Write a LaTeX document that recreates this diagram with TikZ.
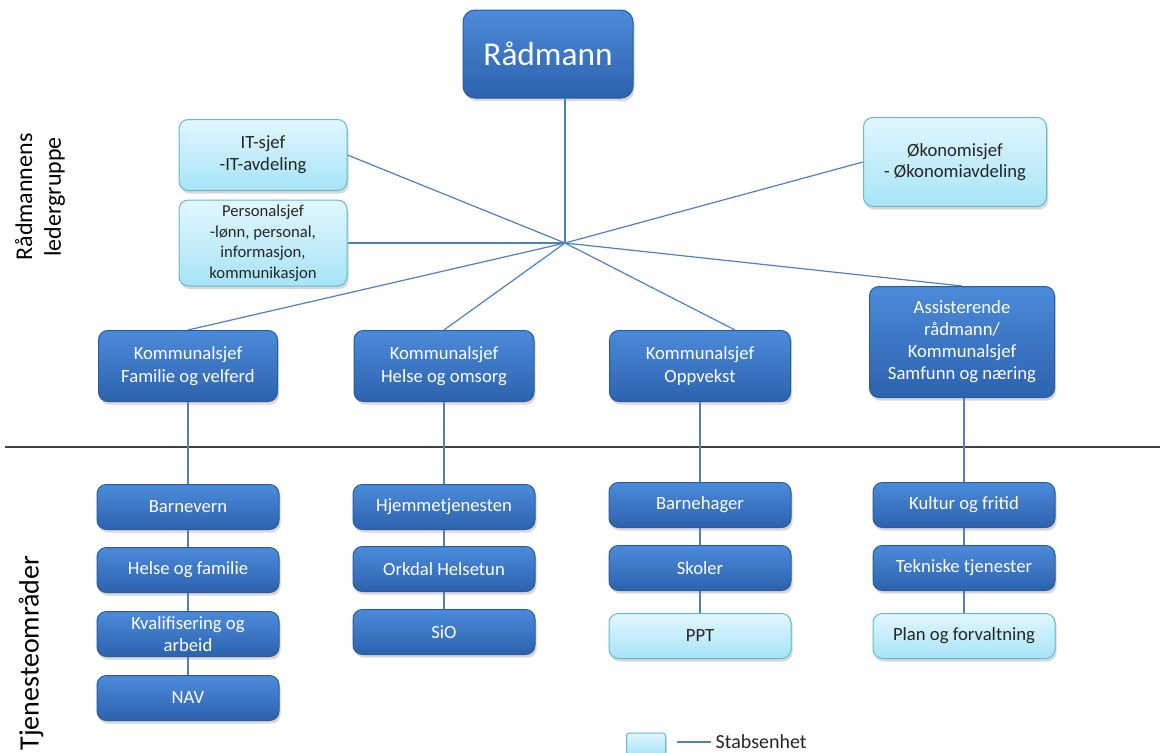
\documentclass[tikz,border=0pt]{standalone}
\usepackage{fontspec}
\setmainfont{Carlito}
\usetikzlibrary{shadows,backgrounds,calc}
\definecolor{dkA}{HTML}{4C8BDA}
\definecolor{dkB}{HTML}{2C62AE}
\definecolor{dkE}{HTML}{285C9C}
\definecolor{ltA}{HTML}{E2F7FD}
\definecolor{ltB}{HTML}{A6E4F7}
\definecolor{ltE}{HTML}{62B9D3}
\definecolor{connc}{HTML}{4F7FC4}
\definecolor{sepc}{HTML}{404040}
\begin{document}
\begin{tikzpicture}[x=0.75pt,y=-0.75pt,
  box/.style={rectangle, rounded corners=7pt, draw, line width=0.75pt,
    drop shadow={shadow xshift=1.2pt, shadow yshift=-2.4pt, opacity=0.3},
    align=center, inner sep=0pt},
  dark/.style={box, top color=dkA, bottom color=dkB, draw=dkE, text=white},
  light/.style={box, top color=ltA, bottom color=ltB, draw=ltE, text=black!85},
  sz/.style 2 args={minimum width={#1*0.75pt}, minimum height={#2*0.75pt}},
  upper/.style={font=\fontsize{14}{17.5}\selectfont},
  lower/.style={dark, sz={182}{45}, font=\fontsize{14}{16.5}\selectfont},
  lowerl/.style={light, sz={182}{45}, font=\fontsize{14}{16.5}\selectfont},
  conn/.style={draw=connc, line width=0.9pt}]
\useasboundingbox (0,0) rectangle (1165,753);

% top
\node[dark, sz={170}{88}, rounded corners=9pt, font=\fontsize{25}{30}\selectfont] (rad) at (548,54) {Rådmann};
\node[light, sz={168}{71}, font=\fontsize{14}{16.5}\selectfont] (it) at (263,155) {IT-sjef\\-IT-avdeling};
\node[light, sz={168}{86}, font=\fontsize{12.5}{15.4}\selectfont] (pers) at (263,243) {Personalsjef\\-lønn, personal,\\informasjon,\\kommunikasjon};
\node[light, sz={183}{89}, font=\fontsize{14}{16}\selectfont] (oko) at (955,162) {Økonomisjef\\- Økonomiavdeling};

% kommunalsjefer
\node[dark, sz={179}{71}, upper] (kf) at (188,366) {Kommunalsjef\\Familie og velferd};
\node[dark, sz={180}{71}, upper] (kh) at (444,366) {Kommunalsjef\\Helse og omsorg};
\node[dark, sz={181}{71}, upper] (ko) at (700,366) {Kommunalsjef\\Oppvekst};
\node[dark, sz={185}{111}, font=\fontsize{14}{16.5}\selectfont] (ka) at (962,342) {Assisterende\\rådmann/\\Kommunalsjef\\Samfunn og næring};

% columns
\node[lower] (a1) at (188,507) {Barnevern};
\node[lower] (a2) at (188,570) {Helse og familie};
\node[lower] (a3) at (188,634) {Kvalifisering og\\arbeid};
\node[lower] (a4) at (188,698) {NAV};

\node[lower] (b1) at (444,507) {Hjemmetjenesten};
\node[lower] (b2) at (444,569) {Orkdal Helsetun};
\node[lower] (b3) at (444,632) {SiO};

\node[lower] (c1) at (700,505) {Barnehager};
\node[lower] (c2) at (700,568) {Skoler};
\node[lowerl] (c3) at (700,636) {PPT};

\node[lower] (d1) at (964,505) {Kultur og fritid};
\node[lower] (d2) at (964,568) {Tekniske tjenester};
\node[lowerl] (d3) at (964,636) {Plan og forvaltning};

% side labels
\node[rotate=90, align=center, font=\fontsize{18}{21.5}\selectfont] (lg) at (40,197) {Rådmannens\\ledergruppe};
\node[rotate=90, font=\fontsize{21}{24}\selectfont] (tj) at (31,653) {Tjenesteområder};

% legend
\node[light, sz={39}{22}, rounded corners=2pt, drop shadow={opacity=0}] (leg) at (646,744) {};
\coordinate (la) at (677,742);
\coordinate (lb) at (711,742);
\node[anchor=west, font=\fontsize{15}{18}\selectfont, text=black!85] (legt) at (lb) {Stabsenhet};

\coordinate (hub) at (565,243);

\begin{pgfonlayer}{background}
  \draw[sepc, line width=1.6pt] (5,447) -- (1160,447);
  \draw[conn] (rad.south -| hub) -- (hub);
  \draw[conn] (hub) -- (it.east);
  \draw[conn] (hub) -- (pers.east);
  \draw[conn] (hub) -- (oko.west);
  \draw[conn] (hub) -- (kf.north);
  \draw[conn] (hub) -- (kh.north);
  \draw[conn] (hub) -- ($(ko.north)+(35,0)$);
  \draw[conn] (hub) -- (ka.north);
  \draw[conn] (kf.south) -- (a1.north) (a1.south) -- (a2.north) (a2.south) -- (a3.north) (a3.south) -- (a4.north);
  \draw[conn] (kh.south) -- (b1.north) (b1.south) -- (b2.north) (b2.south) -- (b3.north);
  \draw[conn] (ko.south) -- (c1.north) (c1.south) -- (c2.north) (c2.south) -- (c3.north);
  \draw[conn] (ka.south -| d1) -- (d1.north) (d1.south) -- (d2.north) (d2.south) -- (d3.north);
  \draw[conn] (la) -- (lb);
\end{pgfonlayer}
\end{tikzpicture}
\end{document}
